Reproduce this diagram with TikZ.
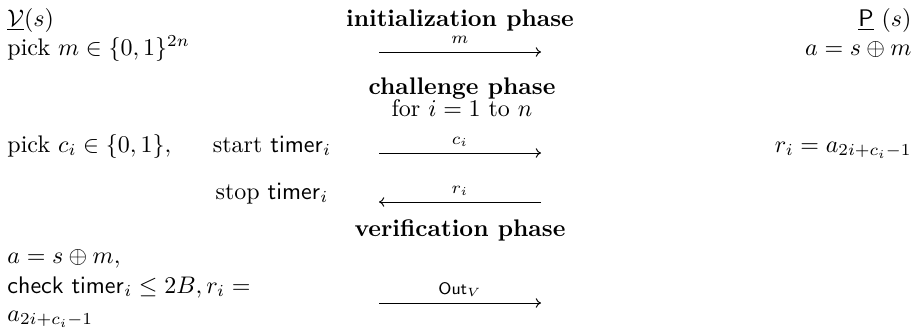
\documentclass[tikz,border=0pt]{standalone}
\usepackage{amsmath,amssymb}
\usetikzlibrary{arrows.meta,positioning}

\begin{document}
\begin{tikzpicture}[
  x=0.41667pt, y=-0.41667pt,
  txt/.style={inner sep=0pt, anchor=base west},
  rtxt/.style={inner sep=0pt, anchor=base east},
  ctxt/.style={inner sep=0pt, anchor=base},
  phase/.style={ctxt, font=\bfseries},
  msg/.style={-{To[length=2.2pt, width=4pt]}, line width=0.4pt},
  lbl/.style={font=\scriptsize, inner sep=0pt, anchor=base, yshift=3.6pt},
]
\useasboundingbox (0,0) rectangle (920,332);

% ---- parties ----
\node[txt]  (V) at (7,26) {$\underline{\mathcal{V}}(s)$};
\node[rtxt] (P) at (912,26) {$\underline{\mathsf{P}}\ (s)$};

% ---- initialization phase ----
\node[phase] (init) at (460,26) {initialization phase};
\node[txt]  (pickm) at (7,55) {pick $m \in \{0,1\}^{2n}$};
\node[rtxt] (aP) at (912,55) {$a = s \oplus m$};
\coordinate (m-l) at (379,52);
\coordinate (m-r) at (541,52);
\draw[msg] (m-l) -- node[lbl] {$m$} (m-r);

% ---- challenge phase ----
\node[phase] (chal) at (462,94) {challenge phase};
\node[ctxt] (loop) at (462,116) {for $i = 1$ to $n$};
\node[txt]  (pickc) at (7,152) {pick $c_i \in \{0,1\},$};
\node[ctxt] (start) at (272,152) {start $\mathsf{timer}_i$};
\node[rtxt] (ri) at (912,152) {$r_i = a_{2i+c_i-1}$};
\node[ctxt] (stop) at (272,199) {stop $\mathsf{timer}_i$};
\coordinate (c-l) at (379,153);
\coordinate (c-r) at (541,153);
\draw[msg] (c-l) -- node[lbl] {$c_i$} (c-r);
\coordinate (r-l) at (379,202);
\coordinate (r-r) at (541,202);
\draw[msg] (r-r) -- node[lbl] {$r_i$} (r-l);

% ---- verification phase ----
\node[phase] (verif) at (460,236) {verification phase};
\node[txt] (vA) at (7,263) {$a = s \oplus m,$};
\node[txt] (vCheck) at (7,293) {$\mathsf{check\ timer}_i \le 2B, r_i =$};
\node[txt] (vSub) at (7,321) {$a_{2i+c_i-1}$};
\coordinate (o-l) at (379,303);
\coordinate (o-r) at (541,303);
\draw[msg] (o-l) -- node[lbl] {$\mathsf{Out}_V$} (o-r);
\end{tikzpicture}
\end{document}
